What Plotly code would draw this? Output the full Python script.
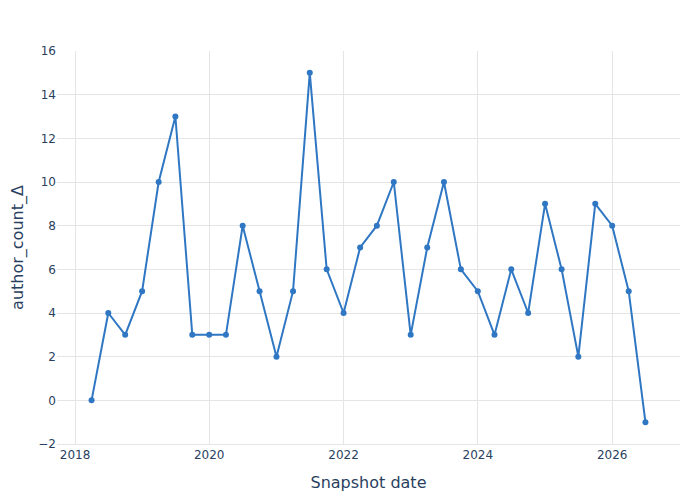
import plotly.graph_objects as go
import pandas as pd

# quarterly snapshots
snapshot_dates = pd.date_range("2018-04-01", "2026-07-01", freq="QS").strftime("%Y-%m-%d").tolist()
author_count_delta = [0, 4, 3, 5, 10, 13, 3, 3, 3, 8, 5, 2, 5, 15, 6, 4, 7, 8,
                      10, 3, 7, 10, 6, 5, 3, 6, 4, 9, 6, 2, 9, 8, 5, -1]

df = pd.DataFrame({"date": snapshot_dates, "delta": author_count_delta})

fig = go.Figure(go.Scatter(
    x=df["date"], y=df["delta"], mode="lines+markers",
    line=dict(color="#2f77c3", width=2),
    marker=dict(size=6, color="#2f77c3"),
))

fig.update_layout(
    template="plotly_white",
    width=700, height=500,
    margin=dict(l=49, r=28, t=43, b=64),
    font=dict(family="DejaVu Sans", color="#2a3f5f", size=12),
    showlegend=False,
)
fig.update_xaxes(title_text="Snapshot date", title_font_size=16,
                 range=["2017-09-25", "2027-01-05"], dtick="M24", automargin=False,
                 showline=True, linecolor="#e5e5e5", gridcolor="#e5e5e5")
fig.update_yaxes(title_text="author_count_Δ", title_font_size=16, automargin=False,
                 title_standoff=14,
                 range=[-2, 16], dtick=2, zeroline=False, gridcolor="#e5e5e5")

fig.write_html("out.html")
